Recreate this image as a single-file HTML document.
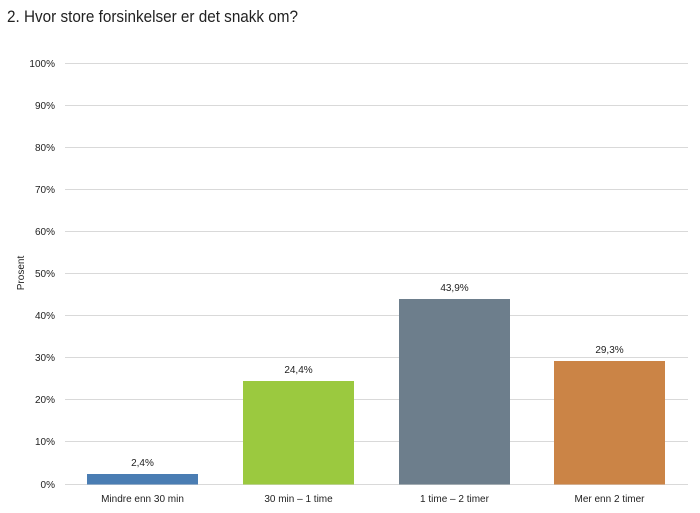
<!DOCTYPE html>
<html><head><meta charset="utf-8"><style>
html,body{margin:0;padding:0;background:#fff;}
svg{display:block;}
text{font-family:"Liberation Sans",sans-serif;fill:#222;}
</style></head><body>
<svg width="700" height="513" viewBox="0 0 700 513" xmlns="http://www.w3.org/2000/svg">
<rect width="700" height="513" fill="#fff"/>
<text x="7" y="22" font-size="17" textLength="291" lengthAdjust="spacingAndGlyphs" fill="#111">2. Hvor store forsinkelser er det snakk om?</text>
<g stroke="#d9d9d9" stroke-width="1">
<line x1="65" y1="63.5" x2="688" y2="63.5"/>
<line x1="65" y1="105.5" x2="688" y2="105.5"/>
<line x1="65" y1="147.5" x2="688" y2="147.5"/>
<line x1="65" y1="189.5" x2="688" y2="189.5"/>
<line x1="65" y1="231.5" x2="688" y2="231.5"/>
<line x1="65" y1="273.5" x2="688" y2="273.5"/>
<line x1="65" y1="315.5" x2="688" y2="315.5"/>
<line x1="65" y1="357.5" x2="688" y2="357.5"/>
<line x1="65" y1="399.5" x2="688" y2="399.5"/>
<line x1="65" y1="441.5" x2="688" y2="441.5"/>
<line x1="65" y1="484.5" x2="688" y2="484.5"/>
</g>
<g font-size="10" text-anchor="end">
<text x="55" y="67">100%</text>
<text x="55" y="109">90%</text>
<text x="55" y="151">80%</text>
<text x="55" y="193">70%</text>
<text x="55" y="235">60%</text>
<text x="55" y="277">50%</text>
<text x="55" y="319">40%</text>
<text x="55" y="361">30%</text>
<text x="55" y="403">20%</text>
<text x="55" y="445">10%</text>
<text x="55" y="488">0%</text>
</g>
<text x="0" y="0" font-size="10" text-anchor="middle" transform="translate(24,273) rotate(-90)">Prosent</text>
<rect x="87" y="474" width="111" height="10.5" fill="#4a7db3"/>
<rect x="243" y="381" width="111" height="103.5" fill="#9bc93f"/>
<rect x="399" y="299" width="111" height="185.5" fill="#6d7e8c"/>
<rect x="554" y="361" width="111" height="123.5" fill="#cb8446"/>
<g font-size="10" text-anchor="middle">
<text x="142.5" y="466">2,4%</text>
<text x="298.5" y="373">24,4%</text>
<text x="454.5" y="291">43,9%</text>
<text x="609.5" y="353">29,3%</text>
<text x="142.5" y="502">Mindre enn 30 min</text>
<text x="298.5" y="502">30 min – 1 time</text>
<text x="454.5" y="502">1 time – 2 timer</text>
<text x="609.5" y="502">Mer enn 2 timer</text>
</g>
</svg>
</body></html>
